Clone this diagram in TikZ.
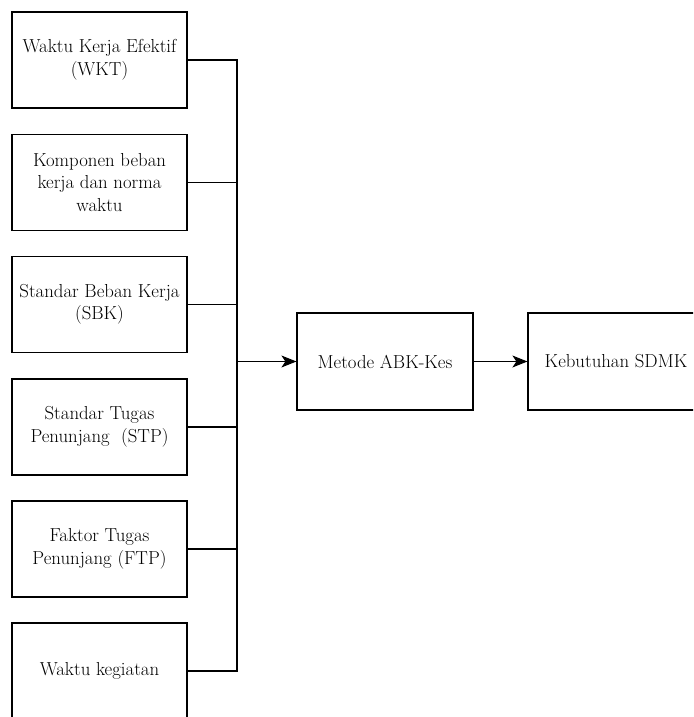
\documentclass[tikz,border=0pt]{standalone}
\usetikzlibrary{arrows.meta}

\begin{document}
\begin{tikzpicture}[x=1pt, y=-1pt,
    faktor/.style = {shape = rectangle, draw = black, line width = 1.2pt, minimum width = 175pt, minimum height = 96pt, inner xsep = 2pt, align = center, font = \fontsize{18.8}{22.5}\selectfont},
    proses/.style = {shape = rectangle, draw = black, line width = 1.2pt, minimum width = 176pt, minimum height = 97pt, inner xsep = 2pt, align = center, font = \fontsize{18.8}{22.5}\selectfont},
    garis/.style = {line width = 1.2pt},
    panah/.style = {line width = 1.2pt, -{Stealth[length = 15pt, width = 12pt, inset = 4pt]}},
    ]
    \useasboundingbox (0, 0) rectangle (693, 717);
    \clip (0, 0) rectangle (693, 717);

    \node[faktor] (wkt) at (99.5, 60) {Waktu Kerja Efektif\\(WKT)};
    \node[faktor] (komp) at (99.5, 182.5) {Komponen beban\\kerja dan norma\\waktu};
    \node[faktor] (sbk) at (99.5, 304.5) {Standar Beban Kerja\\(SBK)};
    \node[faktor] (stp) at (99.5, 427) {Standar Tugas\\Penunjang \ (STP)};
    \node[faktor] (ftp) at (99.5, 549) {Faktor Tugas\\Penunjang (FTP)};
    \node[faktor] (keg) at (99.5, 671) {Waktu kegiatan};

    \node[proses] (abk) at (385, 361.5) {Metode ABK-Kes};
    \node[proses] (sdmk) at (616, 361.5) {Kebutuhan SDMK};

    \coordinate (bus) at (237, 0);

    \draw[garis] (wkt.east) -- (wkt.east -| bus) -- (keg.east -| bus) -- (keg.east);
    \draw[garis] (komp.east) -- (komp.east -| bus);
    \draw[garis] (sbk.east) -- (sbk.east -| bus);
    \draw[garis] (stp.east) -- (stp.east -| bus);
    \draw[garis] (ftp.east) -- (ftp.east -| bus);

    \draw[panah] (abk.west -| bus) -- (abk.west);
    \draw[panah] (abk.east) -- (sdmk.west);
\end{tikzpicture}
\end{document}
